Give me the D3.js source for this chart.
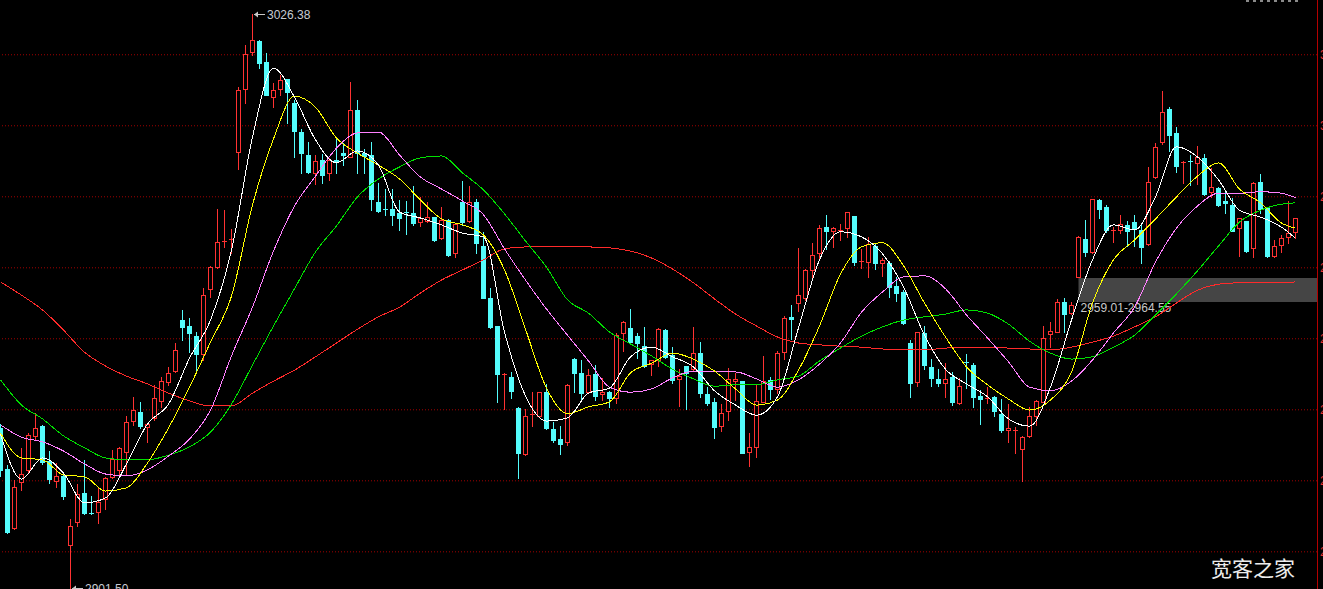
<!DOCTYPE html>
<html><head><meta charset="utf-8">
<script src="https://cdn.jsdelivr.net/npm/d3@7"></script>
<style>html,body{margin:0;padding:0;background:#000;overflow:hidden}</style>
</head><body>
<svg id="c" width="1323" height="589"></svg>
<script>
// ---- data ----
const priceLow = 2901.50, priceHigh = 3026.38;
const tickValues = [3017.62, 3002.17, 2986.72, 2971.27, 2955.83, 2940.38, 2924.93, 2909.48];
const bandPrices = [2963.7, 2969.0];       // grey box (bottom, top)
const bandStartIndex = 154;
const bandLabel = "2959.01-2964.55";
const watermark = "宽客之家";

// [open, high, low, close]
const ohlc = [
[2936.3,2937.2,2925.9,2927.2],[2927.4,2928.3,2913.5,2913.7],[2914.6,2925.0,2914.3,2923.5],[2924.6,2932.0,2922.8,2926.3],
[2927.2,2935.2,2926.5,2934.8],[2934.6,2939.6,2933.7,2936.3],[2936.7,2937.0,2928.5,2928.9],[2929.1,2931.3,2924.3,2925.2],
[2924.8,2928.7,2923.5,2925.9],[2925.9,2926.1,2920.9,2921.5],[2910.9,2916.5,2901.5,2915.0],[2915.9,2924.1,2915.0,2922.0],
[2922.2,2929.4,2917.6,2917.8],[2917.8,2921.5,2917.5,2917.6],[2918.0,2923.5,2915.6,2920.2],[2920.9,2925.7,2918.7,2925.4],
[2925.7,2931.5,2925.4,2929.6],[2927.2,2932.2,2925.9,2932.0],[2931.1,2938.9,2926.1,2937.6],[2937.8,2943.1,2937.0,2940.2],
[2939.8,2942.0,2936.3,2936.7],[2936.5,2937.4,2933.3,2937.2],[2938.5,2945.7,2938.1,2942.8],[2942.2,2947.4,2940.9,2946.5],
[2946.3,2949.6,2945.7,2948.3],[2948.7,2954.8,2948.5,2953.3],[2959.8,2962.0,2955.5,2958.3],[2958.5,2960.2,2952.8,2957.0],
[2956.3,2957.2,2948.9,2952.4],[2952.4,2966.8,2951.1,2965.2],[2966.6,2971.6,2964.8,2971.3],[2971.3,2984.0,2971.1,2976.8],
[2976.8,2983.7,2975.7,2977.0],[2977.2,2979.6,2974.4,2977.4],[2996.4,3010.5,2992.7,3009.9],[3010.1,3019.6,3007.0,3017.7],
[3018.1,3026.38,3017.5,3020.7],[3020.5,3020.7,3014.6,3015.7],[3015.9,3017.9,3008.7,3008.8],[3008.3,3011.4,3006.1,3009.9],
[3010.1,3013.1,3008.8,3012.0],[3012.2,3012.3,3002.7,3009.4],[3007.0,3007.7,2995.3,3000.9],[3000.7,3001.4,2991.8,2996.1],
[2995.7,2998.5,2991.8,2992.0],[2991.8,2995.7,2989.4,2994.4],[2994.6,2995.9,2989.6,2991.4],[2991.8,2995.1,2990.3,2994.6],
[2994.6,2999.4,2991.8,2994.2],[2996.1,2998.3,2993.5,2995.7],[2995.3,3011.6,2995.2,3005.5],[3005.5,3007.7,2991.8,2996.1],
[2996.1,2997.0,2991.8,2995.5],[2995.7,2998.5,2983.7,2986.1],[2985.5,2989.6,2983.4,2983.5],[2984.0,2988.3,2982.7,2983.7],
[2984.0,2988.3,2980.5,2982.7],[2983.1,2985.9,2979.4,2982.0],[2983.3,2985.7,2978.5,2983.1],[2983.1,2989.0,2980.5,2980.9],
[2981.1,2986.6,2980.3,2982.0],[2981.3,2985.5,2981.2,2982.2],[2982.2,2982.3,2977.0,2977.2],[2977.6,2984.4,2977.5,2981.6],
[2981.6,2981.7,2973.7,2973.9],[2974.4,2980.9,2973.5,2980.7],[2985.5,2990.1,2980.5,2981.1],[2981.3,2989.0,2981.2,2985.5],
[2985.5,2986.1,2974.4,2976.6],[2975.9,2979.0,2964.5,2964.6],[2964.6,2966.8,2958.1,2958.3],[2958.5,2958.6,2942.0,2948.1],
[2947.8,2948.2,2940.4,2948.1],[2947.4,2948.5,2942.8,2944.4],[2940.7,2940.9,2925.4,2930.9],[2930.6,2940.4,2930.4,2938.9],
[2939.1,2944.1,2936.7,2939.4],[2938.9,2944.2,2938.8,2944.1],[2944.1,2945.9,2936.2,2936.3],[2936.1,2937.6,2933.3,2933.7],
[2933.9,2936.7,2930.6,2932.8],[2933.3,2945.8,2932.6,2945.7],[2951.3,2951.5,2944.1,2948.3],[2948.3,2951.1,2942.4,2943.9],
[2944.1,2949.1,2944.0,2947.8],[2948.1,2950.0,2942.4,2943.3],[2943.7,2947.2,2942.4,2944.1],[2944.1,2944.4,2940.9,2942.8],
[2942.8,2957.0,2941.7,2956.5],[2957.0,2959.6,2953.1,2959.4],[2958.1,2962.2,2954.6,2955.0],[2956.3,2957.0,2951.5,2954.8],
[2954.1,2958.3,2949.6,2949.8],[2950.2,2951.2,2947.8,2951.1],[2951.1,2958.1,2949.8,2957.8],[2957.6,2957.8,2951.5,2951.8],
[2952.2,2953.9,2946.1,2946.8],[2947.0,2949.1,2941.1,2947.6],[2949.8,2949.9,2940.4,2948.3],[2949.1,2958.3,2948.9,2952.6],
[2952.6,2955.0,2943.1,2943.9],[2943.7,2945.2,2941.3,2941.7],[2942.0,2942.8,2934.1,2936.5],[2936.7,2941.5,2935.7,2939.6],
[2940.0,2949.4,2938.1,2947.0],[2946.5,2948.3,2942.4,2947.0],[2946.5,2946.6,2930.8,2930.9],[2931.1,2935.2,2928.0,2932.2],
[2932.2,2945.7,2930.0,2942.2],[2942.0,2952.0,2941.9,2946.5],[2946.8,2947.4,2942.6,2944.8],[2944.8,2953.1,2943.9,2952.6],
[2952.8,2960.7,2951.3,2960.2],[2960.5,2963.1,2955.7,2960.0],[2963.5,2975.5,2961.8,2965.2],[2964.6,2970.8,2964.2,2970.7],
[2970.7,2976.6,2969.0,2973.9],[2974.4,2980.5,2972.9,2979.8],[2980.0,2982.7,2975.3,2979.2],[2979.2,2980.0,2975.7,2979.8],
[2979.2,2980.7,2977.2,2979.4],[2979.8,2983.4,2977.9,2983.3],[2982.4,2982.5,2971.8,2972.4],[2972.4,2975.3,2971.1,2972.6],
[2972.4,2977.9,2969.2,2976.3],[2975.9,2976.6,2970.9,2972.2],[2972.2,2973.3,2969.4,2972.9],[2972.2,2972.6,2964.8,2967.0],
[2967.2,2969.2,2963.9,2965.7],[2965.9,2966.3,2958.9,2959.2],[2954.8,2955.5,2943.1,2946.1],[2946.3,2957.3,2945.4,2957.2],
[2957.0,2958.5,2949.1,2950.0],[2949.6,2951.3,2945.4,2947.2],[2947.0,2949.1,2945.4,2946.1],[2946.1,2950.4,2943.1,2947.0],
[2947.4,2948.5,2941.3,2942.0],[2941.7,2947.2,2941.6,2945.4],[2950.7,2952.4,2945.0,2950.4],[2950.0,2950.4,2940.9,2943.1],
[2943.3,2944.6,2937.2,2942.6],[2942.6,2945.2,2941.7,2942.8],[2943.1,2943.3,2938.9,2940.0],[2939.4,2942.6,2935.4,2935.9],
[2935.9,2941.5,2933.3,2936.3],[2935.7,2936.5,2930.9,2935.9],[2931.7,2934.5,2924.8,2934.4],[2934.6,2940.9,2934.4,2938.9],
[2938.9,2942.3,2937.0,2942.2],[2942.0,2958.5,2941.9,2955.9],[2956.8,2959.4,2953.9,2957.4],[2957.2,2964.4,2957.1,2963.7],
[2963.7,2964.6,2957.2,2961.1],[2961.3,2963.7,2961.1,2963.1],[2969.2,2978.0,2969.1,2977.9],[2977.4,2981.6,2973.7,2974.6],
[2974.6,2986.2,2974.4,2986.1],[2985.9,2986.1,2982.0,2984.0],[2984.4,2984.8,2979.0,2979.4],[2979.2,2980.0,2976.8,2979.4],
[2979.4,2982.7,2978.7,2980.7],[2980.5,2981.3,2975.9,2979.2],[2981.1,2982.7,2975.9,2979.6],[2979.4,2980.5,2972.2,2975.7],
[2976.3,2993.1,2976.1,2989.8],[2990.9,2998.3,2990.8,2997.4],[2998.5,3009.6,2998.1,3005.1],[3005.7,3006.1,2996.6,3000.1],
[3000.5,3001.8,2992.0,2993.3],[2994.0,2994.3,2989.6,2994.2],[2994.4,2995.7,2989.2,2994.2],[2994.0,2997.7,2989.4,2995.3],
[2995.1,2995.9,2987.0,2987.2],[2987.7,2992.9,2986.6,2988.7],[2988.5,2988.7,2984.6,2984.8],[2985.7,2988.1,2983.1,2985.3],
[2984.8,2986.4,2979.1,2979.2],[2979.8,2982.1,2973.7,2982.0],[2981.3,2981.4,2974.6,2974.8],[2975.5,2989.8,2973.5,2989.6],
[2989.8,2991.6,2983.1,2984.0],[2984.2,2984.3,2973.5,2973.7],[2973.7,2977.2,2973.5,2975.9],[2976.1,2978.3,2974.6,2977.6],
[2977.9,2985.7,2976.6,2978.7],[2979.0,2982.1,2977.6,2982.0]
];

// moving average lines, read at these candle indices
const maIdx = [0,3,6,9,12,15,18,21,24,27,30,33,36,39,42,45,48,51,54,57,60,63,66,69,72,75,78,81,84,87,90,93,96,99,102,105,108,111,114,117,120,123,126,129,132,135,138,141,144,147,150,153,156,159,162,165,168,171,174,177,180,183,185];
const maWhite = [2935.0,2925.2,2929.8,2926.5,2920.0,2921.1,2928.5,2937.2,2941.5,2951.5,
2959.8,2975.0,2999.6,3014.6,3008.3,2999.0,2994.0,2996.6,2993.5,2983.3,
2982.0,2980.5,2978.7,2977.9,2957.2,2943.3,2937.8,2938.5,2943.9,2945.0,
2951.8,2953.9,2951.8,2949.6,2944.4,2941.3,2939.1,2943.1,2958.1,2972.9,
2979.0,2977.9,2974.2,2967.0,2956.5,2949.1,2945.9,2943.1,2938.3,2936.7,
2945.2,2959.8,2972.9,2980.5,2979.4,2986.6,2997.5,2995.3,2990.3,2983.7,
2982.2,2980.0,2977.6];
const maYellow = [2935.2,2929.8,2929.4,2926.1,2925.7,2922.6,2923.3,2928.7,2936.3,2945.2,
2955.0,2965.0,2984.8,2999.2,3008.5,3006.1,2999.4,2996.1,2993.5,2990.5,
2985.9,2981.8,2980.5,2978.3,2970.7,2957.8,2945.0,2939.4,2940.9,2942.0,
2948.3,2950.4,2952.6,2951.3,2948.7,2944.8,2941.3,2942.4,2948.9,2958.5,
2969.8,2975.7,2976.6,2971.6,2963.5,2956.1,2949.6,2945.7,2942.6,2940.2,
2942.4,2948.5,2963.5,2972.9,2977.2,2981.8,2986.6,2991.1,2994.0,2988.3,
2985.3,2980.9,2979.8];
const maViolet = [2937.0,2934.3,2933.3,2931.3,2928.5,2926.3,2925.9,2927.2,2930.2,2933.9,
2940.2,2952.0,2962.6,2974.8,2984.6,2991.1,2997.2,3000.5,3000.7,2995.7,
2990.9,2988.3,2985.7,2982.7,2975.3,2968.5,2962.2,2956.5,2950.9,2945.2,
2944.1,2944.8,2947.2,2948.7,2948.5,2948.5,2947.0,2945.2,2946.8,2950.2,
2954.8,2961.5,2965.9,2969.2,2969.4,2966.6,2960.9,2955.9,2950.7,2945.2,
2944.4,2946.5,2951.1,2957.0,2962.6,2972.4,2979.8,2984.6,2987.4,2987.4,
2987.7,2987.4,2986.4];
const maGreen = [2946.8,2941.3,2938.3,2934.6,2932.0,2929.8,2929.4,2929.4,2930.4,2932.2,
2935.4,2941.5,2950.0,2958.5,2966.6,2974.6,2980.3,2986.6,2990.5,2993.1,
2995.1,2995.5,2991.8,2988.1,2982.9,2977.0,2971.3,2964.2,2961.3,2957.2,
2954.6,2952.0,2949.1,2947.0,2945.4,2945.7,2945.7,2946.8,2947.6,2950.9,
2953.7,2956.3,2958.3,2959.8,2960.5,2961.1,2962.0,2961.3,2958.9,2955.2,
2952.6,2951.3,2951.8,2953.9,2956.5,2960.9,2965.5,2970.5,2975.9,2981.1,
2983.7,2985.0,2985.3];
const maRed = [2968.1,2965.2,2962.0,2957.6,2952.8,2949.8,2947.6,2945.9,2943.9,2942.2,
2941.1,2941.1,2943.9,2946.5,2948.9,2951.8,2954.8,2957.8,2960.5,2962.6,
2965.7,2968.5,2970.7,2972.9,2975.3,2975.7,2975.7,2975.7,2975.7,2975.5,
2974.8,2973.3,2970.9,2967.9,2964.4,2961.1,2958.5,2956.1,2954.8,2954.4,
2954.1,2953.9,2953.5,2953.3,2953.3,2953.7,2953.9,2953.9,2953.7,2953.5,
2953.3,2953.9,2955.0,2956.3,2958.3,2960.5,2963.5,2966.3,2967.6,2967.9,
2967.9,2967.9,2968.1];

// ---- drawing ----
const W = 1323, H = 589, axisX = 1317;
const svg = d3.select('#c');
svg.append('rect').attr('width', W).attr('height', H).attr('fill', '#000');

const x = d3.scaleLinear().domain([0, ohlc.length - 1]).range([0.5, 1295.5]);
const y = d3.scaleLinear().domain([priceLow, priceHigh]).range([588, 14]);

// grid + right labels
const ax = svg.append('g').attr('transform', `translate(${axisX},0)`)
  .call(d3.axisRight(y).tickValues(tickValues).tickSize(-axisX).tickPadding(3)
        .tickFormat(d => d.toFixed(2)));
ax.select('.domain').remove();
ax.selectAll('.tick line').attr('stroke', '#a00000').attr('stroke-dasharray', '1,2');
ax.selectAll('.tick text').attr('fill', '#e83030').attr('font-size', 12)
  .attr('font-family', 'Liberation Sans, Arial, sans-serif');

svg.append('line').attr('x1', axisX + 0.5).attr('x2', axisX + 0.5).attr('y1', 0).attr('y2', H)
  .attr('stroke', '#b40000');

// grey band
const bx = Math.round(x(bandStartIndex)) - 0.5;
svg.append('rect').attr('x', bx).attr('width', axisX - bx)
  .attr('y', Math.round(y(bandPrices[1]))).attr('height', Math.round(y(bandPrices[0])) - Math.round(y(bandPrices[1])))
  .attr('fill', '#454545');
svg.append('text').attr('x', bx + 2).attr('y', Math.round(y(bandPrices[0])) + 6)
  .attr('dominant-baseline', 'central').attr('fill', '#c8c8c8').attr('font-size', 12)
  .attr('font-family', 'Liberation Sans, Arial, sans-serif').text(bandLabel);

// candles
const RED = '#ff3232', CYAN = '#54fcfc';
const cg = svg.append('g').attr('shape-rendering', 'crispEdges');
ohlc.forEach((d, i) => {
  const [o, h, l, c] = d;
  const cx = x(i);
  const up = c >= o;
  const col = up ? RED : CYAN;
  cg.append('line').attr('x1', cx).attr('x2', cx)
    .attr('y1', Math.round(y(h))).attr('y2', Math.round(y(l)) + 1).attr('stroke', col);
  const top = Math.round(y(Math.max(o, c))), bot = Math.round(y(Math.min(o, c)));
  if (bot - top < 2) {
    cg.append('line').attr('x1', cx - 2.5).attr('x2', cx + 2.5)
      .attr('y1', top + 0.5).attr('y2', top + 0.5).attr('stroke', col);
  } else if (up) {
    cg.append('rect').attr('x', cx - 2).attr('y', top + 0.5).attr('width', 4).attr('height', bot - top)
      .attr('fill', '#000').attr('stroke', col);
  } else {
    cg.append('rect').attr('x', cx - 2.5).attr('y', top).attr('width', 5).attr('height', bot - top + 1)
      .attr('fill', col);
  }
});

// moving averages
const line = d3.line().x((d, k) => x(maIdx[k])).y(d => y(d)).curve(d3.curveMonotoneX);
[[maRed, '#ff2a2a'], [maGreen, '#00e000'], [maViolet, '#ff80ff'], [maYellow, '#ffff00'], [maWhite, '#ffffff']]
  .forEach(([s, col]) => {
    svg.append('path').attr('d', line(s)).attr('fill', 'none').attr('stroke', col)
      .attr('stroke-width', 1).attr('shape-rendering', 'crispEdges');
  });

// high / low markers
let iHi = 0, iLo = 0;
ohlc.forEach((d, i) => { if (d[1] > ohlc[iHi][1]) iHi = i; if (d[2] < ohlc[iLo][2]) iLo = i; });
function marker(i, v) {
  const mx = x(i) + 1.5, my = Math.round(y(v)) + 0.5;
  const g = svg.append('g');
  g.append('line').attr('x1', mx).attr('x2', mx + 11).attr('y1', my).attr('y2', my).attr('stroke', '#c8c8c8');
  g.append('path').attr('d', `M${mx},${my} l4,-3 l0,6 z`).attr('fill', '#c8c8c8');
  g.append('text').attr('x', mx + 13).attr('y', my).attr('dominant-baseline', 'central')
    .attr('fill', '#c8ccd4').attr('font-size', 12).attr('font-family', 'Liberation Sans, Arial, sans-serif')
    .text(v.toFixed(2));
}
marker(iHi, ohlc[iHi][1]);
marker(iLo, ohlc[iLo][2]);

// small grey marks top-right
for (let k = 0; k < 8; k++) {
  svg.append('rect').attr('x', 1246 + k * 7).attr('y', 0).attr('width', 3).attr('height', 2).attr('fill', '#8a8a8a');
}

// watermark
svg.append('text').attr('x', 1211).attr('y', 576).attr('fill', '#ececec').attr('font-size', 21)
  .attr('font-family', 'Noto Sans CJK SC, sans-serif').text(watermark);
</script>
</body></html>
